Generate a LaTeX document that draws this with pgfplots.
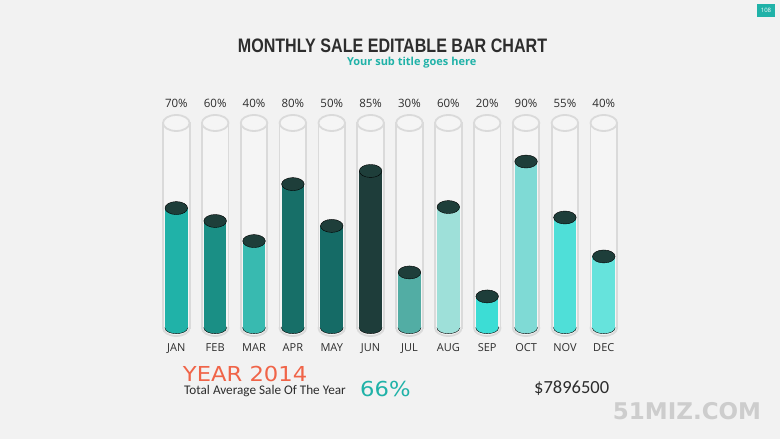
\documentclass[border=0pt]{standalone}
\usepackage{pgfplots}
\pgfplotsset{compat=1.18}
\usepackage{fontspec}
\setmainfont{Open Sans}
\newfontfamily\carlito{Carlito}
\newfontfamily\dejavu{DejaVu Sans}
\newfontfamily\libsans{Liberation Sans}
\definecolor{bg}{RGB}{242,242,242}
\definecolor{tubeline}{RGB}{218,218,218}
\definecolor{tubefill}{RGB}{245,245,245}
\definecolor{capc}{RGB}{30,62,58}
\definecolor{teal}{RGB}{32,178,168}
\definecolor{txt}{RGB}{45,45,45}
\definecolor{orangered}{RGB}{240,100,72}
\definecolor{cJAN}{RGB}{32,178,168}
\definecolor{cFEB}{RGB}{26,143,133}
\definecolor{cMAR}{RGB}{56,186,176}
\definecolor{cAPR}{RGB}{23,111,104}
\definecolor{cMAY}{RGB}{21,107,102}
\definecolor{cJUN}{RGB}{30,61,58}
\definecolor{cJUL}{RGB}{82,173,164}
\definecolor{cAUG}{RGB}{158,224,217}
\definecolor{cSEP}{RGB}{60,221,213}
\definecolor{cOCT}{RGB}{127,218,213}
\definecolor{cNOV}{RGB}{79,223,216}
\definecolor{cDEC}{RGB}{102,227,220}
\newcommand{\mbar}[3]{%
\addplot[only marks, mark=*, mark size=11.3pt, mark options={fill=#3, draw=none, yscale=0.5}, forget plot] coordinates {(#1,0)};
\addplot[ybar, bar shift=0pt, bar width=22.6pt, fill=#3, draw=none, forget plot] coordinates {(#1,#2)};
}
\begin{document}
\begin{tikzpicture}
\fill[bg] (0,0) rectangle (780pt,439pt);
\begin{axis}[at={(0,0)}, anchor=south west, width=780pt, height=439pt, scale only axis,
  xmin=-4.537, xmax=15.535, ymin=-54.146, ymax=160, hide axis, clip=false, clip marker paths=true]
% tube bottoms
\addplot[only marks, mark=*, mark size=13.3pt, mark options={fill=tubefill, draw=tubeline, line width=1.8pt, yscale=0.6}] coordinates {(0,0) (1,0) (2,0) (3,0) (4,0) (5,0) (6,0) (7,0) (8,0) (9,0) (10,0) (11,0)};
% tube bodies
\addplot[ybar, bar shift=0pt, bar width=26.6pt, fill=tubefill, draw=tubeline, line width=1.8pt] coordinates {(0,100) (1,100) (2,100) (3,100) (4,100) (5,100) (6,100) (7,100) (8,100) (9,100) (10,100) (11,100)};
\addplot[ybar, bar shift=0pt, bar width=24.4pt, fill=tubefill, draw=none] coordinates {(0,-0.6) (1,-0.6) (2,-0.6) (3,-0.6) (4,-0.6) (5,-0.6) (6,-0.6) (7,-0.6) (8,-0.6) (9,-0.6) (10,-0.6) (11,-0.6)};
% tube tops
\addplot[only marks, mark=*, mark size=13.3pt, mark options={fill=tubefill, draw=tubeline, line width=1.8pt, yscale=0.6}] coordinates {(0,100) (1,100) (2,100) (3,100) (4,100) (5,100) (6,100) (7,100) (8,100) (9,100) (10,100) (11,100)};
% coloured bars
\mbar{0}{58.5}{cJAN}
\mbar{1}{52.2}{cFEB}
\mbar{2}{42.4}{cMAR}
\mbar{3}{70.2}{cAPR}
\mbar{4}{49.8}{cMAY}
\mbar{5}{76.6}{cJUN}
\mbar{6}{27.1}{cJUL}
\mbar{7}{59.0}{cAUG}
\mbar{8}{15.4}{cSEP}
\mbar{9}{81.2}{cOCT}
\mbar{10}{53.9}{cNOV}
\mbar{11}{34.9}{cDEC}
% caps
\addplot[only marks, mark=*, mark size=11.3pt, mark options={fill=capc, draw=none, yscale=0.575}] coordinates {(0,58.5) (1,52.2) (2,42.4) (3,70.2) (4,49.8) (5,76.6) (6,27.1) (7,59.0) (8,15.4) (9,81.2) (10,53.9) (11,34.9)};
% percent labels
\addplot[draw=none, mark=none, nodes near coords, point meta=explicit symbolic,
  nodes near coords style={anchor=center, font=\fontsize{11.5}{13}\selectfont, text=txt}]
  coordinates {(0,109.5)[70\%] (1,109.5)[60\%] (2,109.5)[40\%] (3,109.5)[80\%] (4,109.5)[50\%] (5,109.5)[85\%] (6,109.5)[30\%] (7,109.5)[60\%] (8,109.5)[20\%] (9,109.5)[90\%] (10,109.5)[55\%] (11,109.5)[40\%]};
% month labels
\addplot[draw=none, mark=none, nodes near coords, point meta=explicit symbolic,
  nodes near coords style={anchor=base, font=\fontsize{11}{13}\selectfont, text=txt}]
  coordinates {(0,-11.46)[JAN] (1,-11.46)[FEB] (2,-11.46)[MAR] (3,-11.46)[APR] (4,-11.46)[MAY] (5,-11.46)[JUN] (6,-11.46)[JUL] (7,-11.46)[AUG] (8,-11.46)[SEP] (9,-11.46)[OCT] (10,-11.46)[NOV] (11,-11.46)[DEC]};
\end{axis}
% titles and annotations
\node[anchor=base, inner sep=0, text=txt, xscale=0.825, font=\libsans\bfseries\fontsize{19.5}{22}\selectfont] at (392.5pt,386.7pt) {MONTHLY SALE EDITABLE BAR CHART};
\node[anchor=base, inner sep=0, text=teal, font=\bfseries\fontsize{11}{13}\selectfont] at (411.7pt,373.5pt) {Your sub title goes here};
\node[anchor=base west, inner sep=0, text=orangered, xscale=1.1, font=\dejavu\fontsize{20.6}{24}\selectfont] at (182.7pt,57.3pt) {YEAR 2014};
\node[anchor=base west, inner sep=0, text=txt, font=\carlito\fontsize{13.2}{15}\selectfont] at (184pt,44pt) {Total Average Sale Of The Year};
\node[anchor=base west, inner sep=0, text=teal, xscale=1.1, font=\dejavu\fontsize{20.6}{24}\selectfont] at (360pt,42.3pt) {66\%};
\node[anchor=base west, inner sep=0, text=txt, font=\carlito\fontsize{18.5}{22}\selectfont] at (534pt,45pt) {\$7896500};
\node[anchor=base west, inner sep=0, text={rgb,255:red,205;green,205;blue,205}, font=\dejavu\bfseries\fontsize{23}{26}\selectfont] at (612.7pt,19.7pt) {51MIZ.COM};
\fill[teal] (757pt,422pt) rectangle (775pt,435pt);
\node[inner sep=0, text=white, font=\fontsize{6}{7}\selectfont] at (766pt,428.5pt) {108};
\end{tikzpicture}
\end{document}
